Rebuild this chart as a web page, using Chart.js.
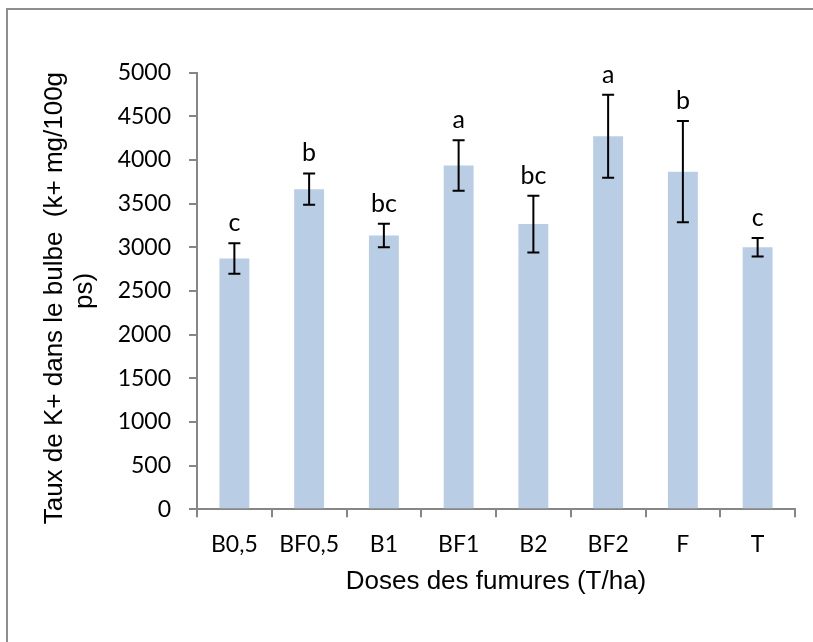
<!DOCTYPE html>
<html>
<head>
<meta charset="utf-8">
<script src="https://cdn.jsdelivr.net/npm/chart.js@4/dist/chart.umd.min.js"></script>
<style>
  html, body { margin: 0; padding: 0; background: #fff; }
  #wrap { position: relative; width: 813px; height: 642px; overflow: hidden; }
  #frame { position: absolute; left: 6px; top: 8px; width: 900px; height: 700px; border: 2px solid #8e8e8e; box-sizing: border-box; }
  canvas { position: absolute; left: 0; top: 0; }
</style>
</head>
<body>
<div id="wrap">
  <div id="frame"></div>
  <canvas id="chart" width="813" height="642"></canvas>
</div>
<script>
// Data
const categories = ["B0,5", "BF0,5", "B1", "BF1", "B2", "BF2", "F", "T"];
const potassium = [2870, 3665, 3135, 3935, 3265, 4270, 3865, 3000];
const errors = [175, 180, 135, 290, 325, 475, 580, 105];
const letters = ["c", "b", "bc", "a", "bc", "a", "b", "c"];

const axisGrey = "#868686";

// error bars + significance letters
const errorBars = {
  id: "errorBars",
  afterDatasetsDraw(chart) {
    const ctx = chart.ctx;
    const y = chart.scales.y;
    const meta = chart.getDatasetMeta(0);
    ctx.save();
    ctx.strokeStyle = "#000";
    ctx.lineWidth = 2;
    ctx.fillStyle = "#000";
    ctx.font = "25px Lato";
    ctx.textAlign = "center";
    ctx.textBaseline = "alphabetic";
    meta.data.forEach((bar, i) => {
      const top = y.getPixelForValue(potassium[i] + errors[i]);
      const bot = y.getPixelForValue(potassium[i] - errors[i]);
      ctx.beginPath();
      ctx.moveTo(bar.x, top); ctx.lineTo(bar.x, bot);
      ctx.moveTo(bar.x - 6, top); ctx.lineTo(bar.x + 6, top);
      ctx.moveTo(bar.x - 6, bot); ctx.lineTo(bar.x + 6, bot);
      ctx.stroke();
      ctx.fillText(letters[i], bar.x, top - 12);
    });
    ctx.restore();
  }
};

new Chart(document.getElementById("chart"), {
  type: "bar",
  data: {
    labels: categories,
    datasets: [{
      data: potassium,
      backgroundColor: "#b9cde5",
      categoryPercentage: 1,
      barPercentage: 0.4
    }]
  },
  options: {
    responsive: false,
    animation: false,
    layout: { padding: { top: 72.5, right: 18, left: 0, bottom: 0 } },
    plugins: { legend: { display: false }, tooltip: { enabled: false } },
    scales: {
      x: {
        offset: true,
        grid: { drawOnChartArea: false, offset: true, tickLength: 8, color: axisGrey, lineWidth: 2 },
        border: { color: axisGrey, width: 2 },
        ticks: { color: "#000", font: { family: "Lato", size: 23 }, padding: 13 },
        title: {
          display: true,
          text: "Doses des fumures (T/ha)",
          color: "#000",
          font: { family: "Liberation Sans", size: 26 },
          padding: { top: 4, bottom: 45 }
        },
        afterFit(scale) { scale.height = 132.7; }
      },
      y: {
        min: 0,
        max: 5000,
        ticks: {
          stepSize: 500,
          color: "#000",
          font: { family: "Lato", size: 23 },
          padding: 18,
          callback: (v) => String(v)
        },
        grid: { drawOnChartArea: false, tickLength: 8, color: axisGrey, lineWidth: 2 },
        border: { color: axisGrey, width: 2 },
        title: {
          display: true,
          text: ["Taux de K+ dans le bulbe  (k+ mg/100g  ", "ps)"],
          color: "#000",
          font: { family: "Liberation Sans", size: 26, lineHeight: 1.15 },
          padding: { top: 40, bottom: 0 }
        },
        afterFit(scale) { scale.width = 197; }
      }
    }
  },
  plugins: [errorBars]
});
</script>
</body>
</html>
